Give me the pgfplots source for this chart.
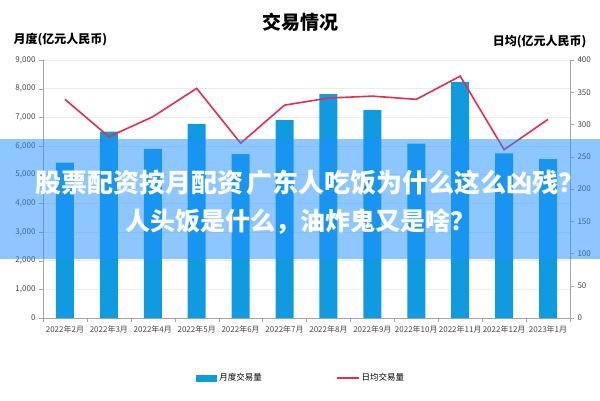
\documentclass[border=0pt]{standalone}
\usepackage{fontspec}
\setmainfont{Noto Sans CJK SC}
\usepackage{pgfplots}
\pgfplotsset{compat=1.18}

\definecolor{barblue}{RGB}{16,155,225}
\definecolor{linered}{RGB}{230,45,75}
\definecolor{bandblue}{RGB}{30,144,255}
\definecolor{ticktext}{RGB}{70,70,70}
\definecolor{axisgray}{RGB}{165,165,165}

\begin{document}
\begin{tikzpicture}[x=1pt,y=1pt]
\useasboundingbox (0,0) rectangle (600,400);

\pgfplotsset{
  base/.style={
    scale only axis, width=527pt, height=258pt,
    at={(43pt,82pt)}, anchor=south west,
    xmin=-0.5, xmax=11.5,
    tick label style={font=\fontsize{8}{9}\selectfont, text=ticktext},
    /pgf/number format/assume math mode=true,
    tick align=outside, major tick length=4pt,
    tick style={axisgray},
    axis line style={axisgray,-},
    scaled y ticks=false,
  }
}

% monthly volume (left axis)
\begin{axis}[base,
  ymin=0, ymax=9000, ytick={0,1000,...,9000},
  yticklabel style={/pgf/number format/1000 sep={,}},
  axis x line*=bottom, axis y line*=left,
  ymajorgrids, grid style={gray!15},
  xtick={0,...,11},
  xticklabels={2022年2月,2022年3月,2022年4月,2022年5月,2022年6月,2022年7月,2022年8月,2022年9月,2022年10月,2022年11月,2022年12月,2023年1月},
  major x tick style={draw=none},
  minor xtick={-0.5,0.5,...,11.5},
  minor tick length=4pt,
  legend style={at={(0.49,-0.233)}, anchor=center, draw=none, fill=none,
    font=\fontsize{8.5}{10}\selectfont, legend columns=2},
  /tikz/every even column/.append style={column sep=72pt},
]
\addplot[ybar, bar width=18pt, bar shift=0pt, fill=barblue, draw=none,
  legend image code/.code={\fill[barblue] (0pt,-3.5pt) rectangle (21pt,3.5pt);}]
  coordinates {
  (0,5420) (1,6500) (2,5900) (3,6770) (4,5720) (5,6900)
  (6,7810) (7,7250) (8,6080) (9,8240) (10,5740) (11,5540)
};
\addlegendentry{月度交易量}
\addlegendimage{legend image code/.code={\draw[linered, line width=1.6pt] (0pt,0pt) -- (22pt,0pt);}}
\addlegendentry{日均交易量}
\end{axis}

% daily average (right axis)
\begin{axis}[base,
  ymin=0, ymax=400, ytick={0,50,...,400},
  axis y line*=right, axis x line=none,
]
\addplot[linered, line width=1.6pt, mark=none] coordinates {
  (0,339) (1,281) (2,312) (3,356) (4,271) (5,330)
  (6,341) (7,344) (8,339) (9,375) (10,261) (11,308)
};
\end{axis}

% titles
\node[font=\bfseries\fontsize{19}{19}\selectfont] at (300,378) {交易情况};
\node[font=\bfseries\fontsize{12}{12}\selectfont, anchor=west] at (10,360) {月度(亿元人民币)};
\node[font=\bfseries\fontsize{12}{12}\selectfont, anchor=east] at (590,358) {日均(亿元人民币)};

% overlay band
\fill[bandblue, fill opacity=0.5] (0,141) rectangle (600,261);
\node[text=white, font=\bfseries\fontsize{26}{26}\selectfont] at (310,217)
  {股票配资按月配资\hspace{4pt}广东人吃饭为什么这么凶残？};
\node[text=white, font=\bfseries\fontsize{25}{25}\selectfont] at (300,178)
  {人头饭是什么，油炸鬼又是啥？};
\end{tikzpicture}
\end{document}
